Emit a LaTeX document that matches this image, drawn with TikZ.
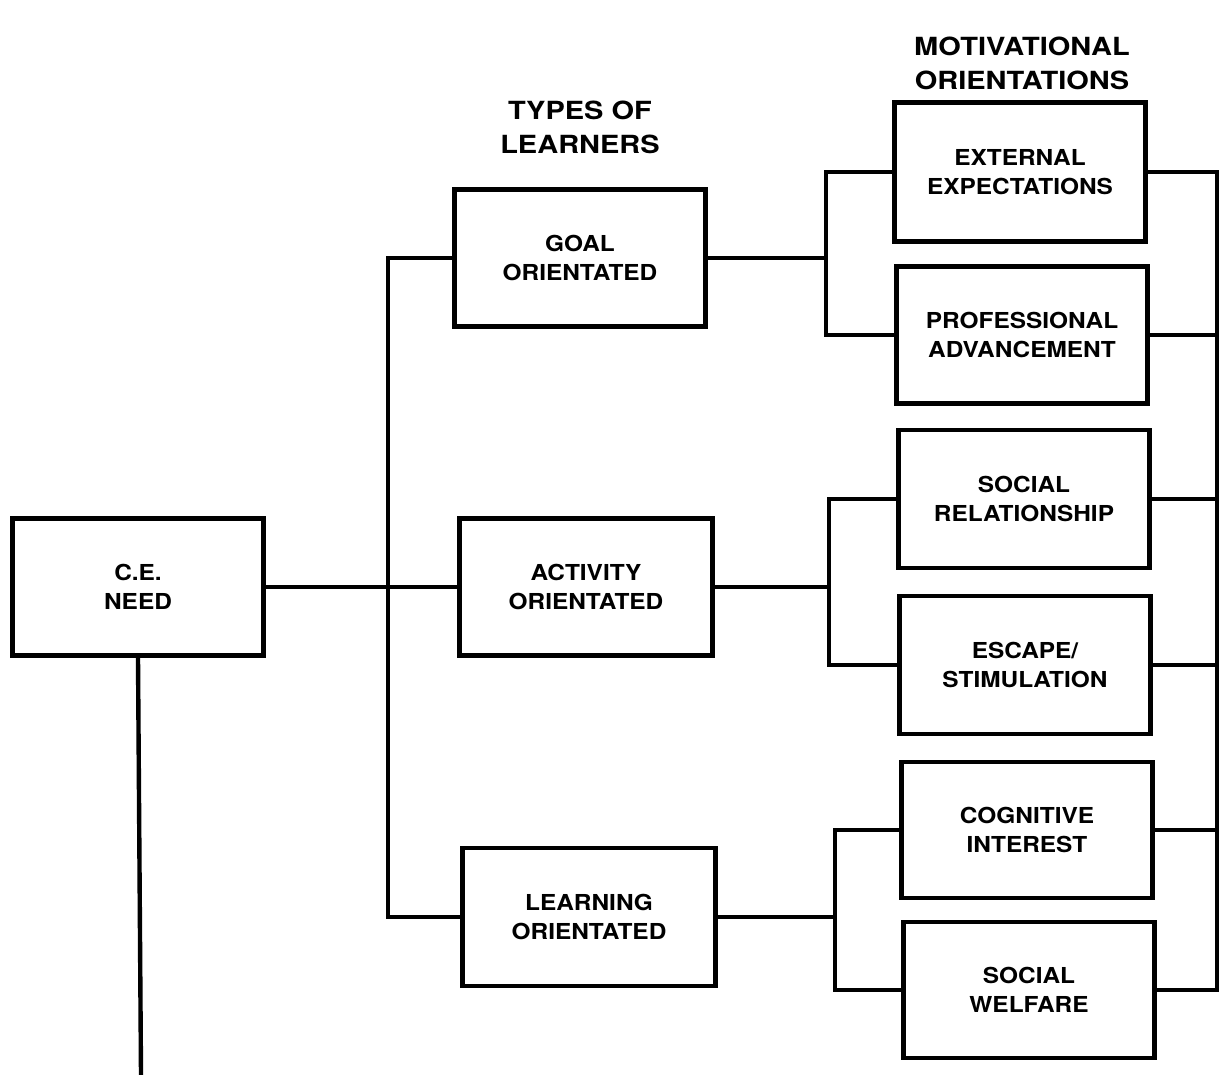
\documentclass[tikz,border=0pt]{standalone}
\usepackage{fontspec}
\setmainfont{TeX Gyre Heros}
\newfontfamily\boxfont[FakeStretch=1.11]{TeX Gyre Heros}
\newfontfamily\headfont[FakeStretch=1.16]{TeX Gyre Heros}
\begin{document}
\begin{tikzpicture}[x=1pt,y=-1pt,
  line width=4.4pt,
  box/.style={draw, rectangle, minimum height=137pt, minimum width=251pt,
    inner sep=0pt, align=center, font=\boxfont\bfseries\fontsize{22}{29.5}\selectfont},
  heading/.style={align=center, inner sep=0pt,
    font=\headfont\bfseries\fontsize{25}{34}\selectfont},
  link/.style={line cap=rect}]
\useasboundingbox (0,0) rectangle (1223,1074);

% headings
\node[heading] (hTypes) at (580,127) {TYPES OF\\LEARNERS};
\node[heading] (hMot) at (1022,63) {MOTIVATIONAL\\ORIENTATIONS};

% root
\node[box] (need) at (138,587) {C.E.\\NEED};

% types of learners
\node[box] (goal)  at (580,258) {GOAL\\ORIENTATED};
\node[box, minimum width=253pt] (act)   at (586,587) {ACTIVITY\\ORIENTATED};
\node[box, minimum width=253pt, minimum height=138pt] (learn) at (589,917) {LEARNING\\ORIENTATED};

% motivational orientations
\node[box, minimum height=139pt] (ext)    at (1020,172) {EXTERNAL\\EXPECTATIONS};
\node[box] (prof)   at (1022,335) {PROFESSIONAL\\ADVANCEMENT};
\node[box, minimum height=138pt] (socrel) at (1024,499) {SOCIAL\\RELATIONSHIP};
\node[box, minimum height=138pt] (esc)    at (1025,665) {ESCAPE/\\STIMULATION};
\node[box, minimum height=136pt] (cog)    at (1027,830) {COGNITIVE\\INTEREST};
\node[box, minimum height=136pt] (welf)   at (1029,990) {SOCIAL\\WELFARE};

% junction points
\coordinate (bus) at (388,258);
\coordinate (gj) at (826,258);
\coordinate (aj) at (829,587);
\coordinate (lj) at (835,917);
\coordinate (spine) at (1217,990);
\coordinate (tail) at (141,1074);

% C.E. need to the learner types
\draw[link] (need.east) -- (act.west);
\draw[link] (goal.west) -- (bus) |- (learn.west);
\draw[link] (need.south) -- (tail);

% learner types to their orientations
\draw[link] (goal.east) -- (gj);
\draw[link] (ext.west) -| (gj) |- (prof.west);
\draw[link] (act.east) -- (aj);
\draw[link] (socrel.west) -| (aj) |- (esc.west);
\draw[link] (learn.east) -- (lj);
\draw[link] (cog.west) -| (lj) |- (welf.west);

% right-hand spine joining all orientations
\draw[link] (ext.east) -| (spine) -- (welf.east);
\draw[link] (prof.east) -- (prof.east -| spine);
\draw[link] (socrel.east) -- (socrel.east -| spine);
\draw[link] (esc.east) -- (esc.east -| spine);
\draw[link] (cog.east) -- (cog.east -| spine);
\end{tikzpicture}
\end{document}
